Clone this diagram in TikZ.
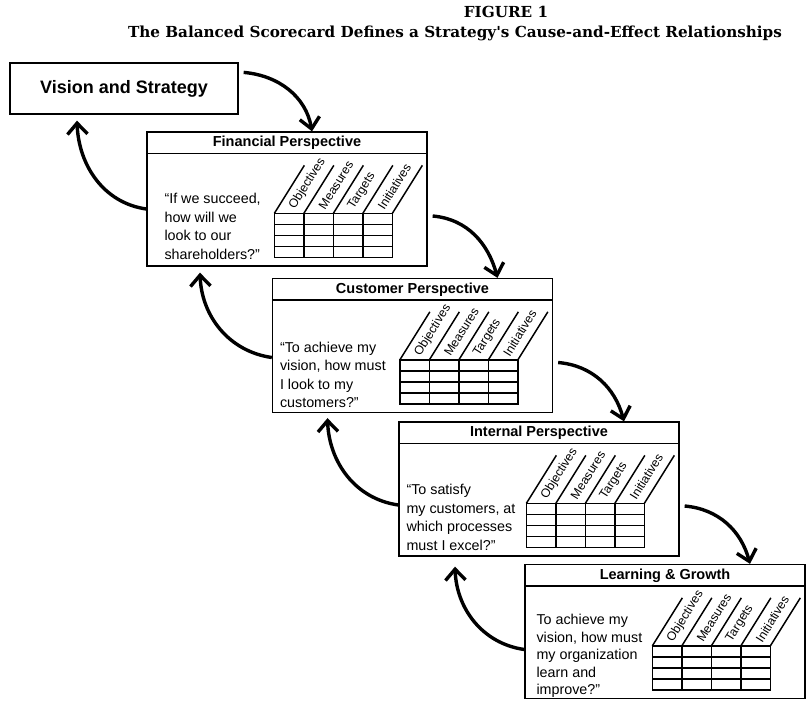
\documentclass[tikz,border=0pt]{standalone}
\usepackage{fontspec}
\setmainfont{Liberation Sans}
\newfontfamily\capfont{DejaVu Serif}
\usepackage{tikz}
\usetikzlibrary{calc,arrows.meta}

\begin{document}
\begin{tikzpicture}[x=1pt, y=1pt,
  box/.style={draw, line width=1.3pt, minimum width=280pt, minimum height=134pt, inner sep=0pt},
  vision/.style={draw, line width=1.3pt, minimum width=228pt, minimum height=51pt, font=\fontsize{18}{20}\selectfont\bfseries},
  head/.style={inner sep=0pt, font=\fontsize{14.5}{16}\selectfont\bfseries},
  quote/.style={align=left, inner sep=0pt, anchor=west, font=\fontsize{14.3}{18.5}\selectfont},
  colhead/.style={rotate=58, anchor=west, inner sep=0pt, font=\fontsize{12.3}{13}\selectfont},
  tabline/.style={line width=1.5pt},
  flow/.style={line width=3.4pt, -{Straight Barb[length=11pt,width=20pt]}},
  titletext/.style={inner sep=0pt, font=\capfont\bfseries\fontsize{15.2}{17}\selectfont}
]
  \useasboundingbox (0,0) rectangle (806,-702);

  % Title
  \node[titletext] (fig) at (506,-12) {FIGURE 1};
  \node[titletext] (cap) at (455,-33) {The Balanced Scorecard Defines a Strategy's Cause-and-Effect Relationships};

  % Vision
  \node[vision] (vis) at (124,-88.5) {Vision and Strategy};

  % Perspectives
  \node[box] (fin) at (287,-199)     {};
  \node[box] (cus) at (412.5,-345.5) {};
  \node[box] (int) at (539,-489)     {};
  \node[box] (lrn) at (665,-631.5)   {};

  % Headers
  \foreach \b in {fin,cus,int,lrn}
    \draw[line width=1.3pt] ($(\b.north west)+(0,-22)$) -- ($(\b.north east)+(0,-22)$);
  \node[head] (fin-h) at ($(fin.north)+(0,-11.5)$) {Financial Perspective};
  \node[head] (cus-h) at ($(cus.north)+(0,-11.5)$) {Customer Perspective};
  \node[head] (int-h) at ($(int.north)+(0,-11.5)$) {Internal Perspective};
  \node[head] (lrn-h) at ($(lrn.north)+(0,-11.5)$) {Learning \& Growth};

  % Questions
  \node[quote] (fin-q) at ($(fin.north west)+(18,-95)$) {“If we succeed,\\how will we\\look to our\\shareholders?”};
  \node[quote] (cus-q) at ($(cus.north west)+(8,-97)$)  {“To achieve my\\vision, how must\\I look to my\\customers?”};
  \node[quote] (int-q) at ($(int.north west)+(8,-96)$)  {“To satisfy\\my customers, at\\which processes\\must I excel?”};
  \node[quote, font=\fontsize{14.3}{17.5}\selectfont] (lrn-q) at ($(lrn.north west)+(12,-92)$) {To achieve my\\vision, how must\\my organization\\learn and\\improve?”};

  % Scorecard tables
  \foreach \b in {fin,cus,int,lrn} {
    \coordinate (\b-t) at ($(\b.north west)+(128,-82)$);
    \draw[tabline] (\b-t) rectangle ++(118,-44);
    \foreach \i in {1,2,3} {
      \draw[tabline] ($(\b-t)+(\i*29.5,0)$) -- ++(0,-44);
      \draw[tabline] ($(\b-t)+(0,-\i*11)$) -- ++(118,0);
    }
    \foreach \i in {0,...,4}
      \draw[tabline] ($(\b-t)+(\i*29.5,0)$) -- ++(30,48);
    \foreach \lbl [count=\i from 0] in {Objectives,Measures,Targets,Initiatives}
      \node[colhead] (\b-c\i) at ($(\b-t)+(\i*29.5+14.75+3,5)$) {\lbl};
  }

  % Cause-and-effect arrows
  \draw[flow] ($(vis.8)+(5,0)$) to[out=-5,in=100] ($(fin.north)+(25,0)$);
  \draw[flow] ($(fin.east)+(5,-17)$) to[out=-5,in=105] ($(cus.north)+(85,0)$);
  \draw[flow] ($(cus.east)+(5,-17)$) to[out=-5,in=105] ($(int.north)+(85,0)$);
  \draw[flow] ($(int.east)+(5,-17)$) to[out=-5,in=105] ($(lrn.north)+(85,0)$);
  \draw[flow] ($(fin.west)+(0,-10)$) to[out=172,in=-88] ($(vis.south)+(-47,-6)$);
  \draw[flow] ($(cus.west)+(0,-12)$) to[out=172,in=-88] ($(fin.south)+(-87,-6)$);
  \draw[flow] ($(int.west)+(0,-16)$) to[out=172,in=-88] ($(cus.south)+(-85,-5)$);
  \draw[flow] ($(lrn.west)+(0,-18)$) to[out=172,in=-88] ($(int.south)+(-84,-10)$);
\end{tikzpicture}
\end{document}
